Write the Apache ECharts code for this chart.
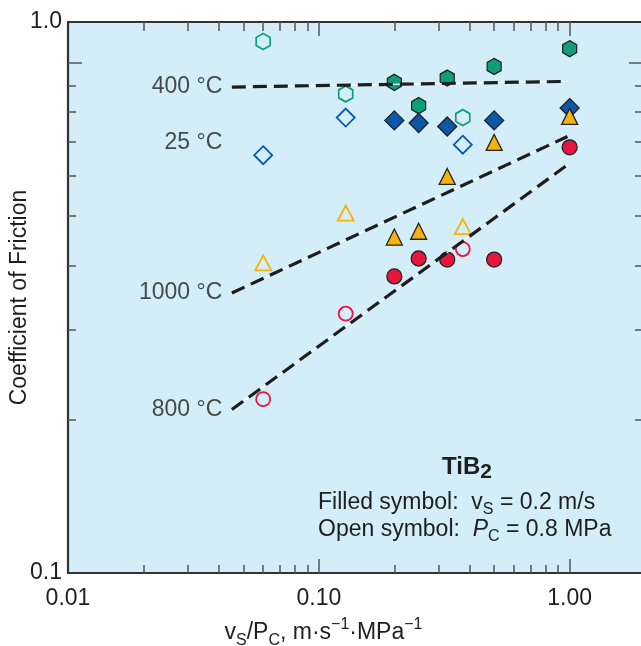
<!DOCTYPE html>
<html>
<head>
<meta charset="utf-8">
<script src="https://cdn.jsdelivr.net/npm/echarts@6/dist/echarts.min.js"></script>
<style>
html,body{margin:0;padding:0;background:#fff;}
#chart{width:641px;height:646px;}
</style>
</head>
<body>
<div id="chart"></div>
<script>
// ---------- data ----------
const xTickLabelValues = [0.01, 0.1, 1];
const xTickLabelTexts = ['0.01', '0.10', '1.00'];
const xMajorTicks = [0.1, 1];
const xMinorTicks = [0.02,0.03,0.04,0.05,0.06,0.07,0.08,0.09,0.2,0.3,0.4,0.5,0.6,0.7,0.8,0.9];
const yTickLabelValues = [0.1, 1.2];
const yTickLabelTexts = ['0.1', '1.0'];
const yMajorTicks = [1.0];
const yMinorTicks = [0.2,0.3,0.4,0.5,0.6,0.7,0.8,0.9];

// 400 °C (hexagons)
const hexFilledX = [0.2, 0.25, 0.325, 0.5, 1.0];
const hexFilledY = [0.914, 0.823, 0.932, 0.982, 1.064];
const hexOpenX = [0.06, 0.128, 0.375];
const hexOpenY = [1.099, 0.868, 0.780];
// 25 °C (diamonds)
const diaFilledX = [0.2, 0.25, 0.325, 0.5, 1.0];
const diaFilledY = [0.770, 0.761, 0.749, 0.770, 0.814];
const diaOpenX = [0.06, 0.128, 0.375];
const diaOpenY = [0.658, 0.780, 0.690];
// 1000 °C (triangles)
const triFilledX = [0.2, 0.25, 0.325, 0.5, 1.0];
const triFilledY = [0.455, 0.467, 0.598, 0.697, 0.784];
const triOpenX = [0.06, 0.128, 0.375];
const triOpenY = [0.405, 0.507, 0.477];
// 800 °C (circles)
const cirFilledX = [0.2, 0.25, 0.325, 0.5, 1.0];
const cirFilledY = [0.381, 0.413, 0.411, 0.411, 0.682];
const cirOpenX = [0.06, 0.128, 0.375];
const cirOpenY = [0.219, 0.322, 0.431];

// dashed trend lines
const fitX = [0.045, 0.98];
const fit400Y = [0.895, 0.918];
const fit1000Y = [0.3535, 0.716];
const fit800Y = [0.209, 0.630];

// temperature labels
const tempLabelText = ['400 °C', '25 °C', '1000 °C', '800 °C'];
const tempLabelX = [0.045, 0.045, 0.045, 0.045];
const tempLabelY = [0.895, 0.696, 0.3535, 0.209];

// ---------- styles ----------
const FONT = 'Liberation Sans, Arial, Helvetica, sans-serif';
const FS = 23;
const TXT = '#1e1e1e';
const AXIS = '#333333';
const TICK = '#555555';
const GREEN = '#0e9e78', BLUE = '#0b58a8', ORANGE = '#f6b30c', RED = '#e5173f';
const HEX = 'path://M0,-10L8.66,-5L8.66,5L0,10L-8.66,5L-8.66,-5Z';

function pairs(xs, ys){ return xs.map((x,i)=>[x, ys[i]]); }
function scatter(name, xs, ys, symbol, size, fill, stroke, bw){
  return {type:'scatter', name, data:pairs(xs,ys), symbol, symbolSize:size,
    itemStyle:{color:fill, borderColor:stroke, borderWidth:bw, opacity:1}, z:3,
    emphasis:{disabled:true}};
}
function dashed(ys){
  return [
    {type:'line', data:pairs(fitX,ys), symbol:'none', z:4, silent:true,
      lineStyle:{color:'#ffffff', width:1.2}},
    {type:'line', data:pairs(fitX,ys), symbol:'none', z:5, silent:true,
      lineStyle:{color:'#1d1d1d', width:3.2, type:[14,7]}}
  ];
}

const xBase = {type:'log', logBase:10, min:0.01, max:1.925, gridIndex:0,
  splitLine:{show:false}, minorTick:{show:false}};
const yBase = {type:'log', logBase:10, min:0.1, max:1.2, gridIndex:0,
  splitLine:{show:false}, minorTick:{show:false}};
const noLabel = {show:false};

const sub = {fontSize:16, fontFamily:FONT, color:TXT, verticalAlign:'bottom'};
const sup = {fontSize:16, fontFamily:FONT, color:TXT, verticalAlign:'top'};

const option = {
  animation:false,
  backgroundColor:'#ffffff',
  grid:{left:68, right:0, top:22, bottom:73, show:true, backgroundColor:'#d3edf9', borderWidth:0,
    containLabel:false, outerBoundsMode:'none'},
  xAxis:[
    Object.assign({}, xBase, {position:'bottom',
      axisLine:{show:true, lineStyle:{color:AXIS, width:2.2}},
      axisTick:{show:true, inside:true, length:14, customValues:xMajorTicks, lineStyle:{color:TICK, width:1.5}},
      axisLabel:{show:true, customValues:xTickLabelValues, margin:14,
        formatter:(v)=>{const i=xTickLabelValues.findIndex(t=>Math.abs(t-v)/t<1e-6); return i>=0?xTickLabelTexts[i]:'';},
        fontSize:FS, fontFamily:FONT, color:TXT},
      name:'{n|v}{sub|S}{n|/P}{sub|C}{n|, m·s}{sup|−1}{n|·MPa}{sup|−1}',
      nameLocation:'middle', nameGap:44, nameMoveOverlap:false,
      nameTextStyle:{padding:[0,62,0,0], rich:{
        n:{fontSize:FS, fontFamily:FONT, color:TXT, lineHeight:32, verticalAlign:'middle'},
        sub:sub, sup:sup}}
    }),
    Object.assign({}, xBase, {position:'bottom',
      axisLine:{show:false},
      axisTick:{show:true, inside:true, length:8, customValues:xMinorTicks, lineStyle:{color:TICK, width:1.5}},
      axisLabel:noLabel}),
    Object.assign({}, xBase, {position:'top',
      axisLine:{show:true, lineStyle:{color:AXIS, width:2.2}},
      axisTick:{show:true, inside:true, length:14, customValues:xMajorTicks, lineStyle:{color:TICK, width:1.5}},
      axisLabel:noLabel}),
    Object.assign({}, xBase, {position:'top',
      axisLine:{show:false},
      axisTick:{show:true, inside:true, length:9, customValues:xMinorTicks, lineStyle:{color:TICK, width:1.5}},
      axisLabel:noLabel})
  ],
  yAxis:[
    Object.assign({}, yBase, {position:'left',
      axisLine:{show:true, lineStyle:{color:AXIS, width:2.2}},
      axisTick:{show:true, inside:true, length:14, customValues:yMajorTicks, lineStyle:{color:TICK, width:1.5}},
      axisLabel:{show:true, customValues:yTickLabelValues, margin:6,
        formatter:(v)=>{const i=yTickLabelValues.findIndex(t=>Math.abs(t-v)/t<1e-6); return i>=0?yTickLabelTexts[i]:'';},
        fontSize:FS, fontFamily:FONT, color:TXT},
      name:'Coefficient of Friction', nameLocation:'middle', nameGap:37, nameMoveOverlap:false,
      nameTextStyle:{fontSize:FS, fontFamily:FONT, color:TXT}
    }),
    Object.assign({}, yBase, {position:'left',
      axisLine:{show:false},
      axisTick:{show:true, inside:true, length:8, customValues:yMinorTicks, lineStyle:{color:TICK, width:1.5}},
      axisLabel:noLabel}),
    Object.assign({}, yBase, {position:'right',
      axisLine:{show:false},
      axisTick:{show:true, inside:true, length:12, customValues:yMajorTicks, lineStyle:{color:TICK, width:1.5}},
      axisLabel:noLabel}),
    Object.assign({}, yBase, {position:'right',
      axisLine:{show:false},
      axisTick:{show:true, inside:true, length:6, customValues:yMinorTicks, lineStyle:{color:TICK, width:1.5}},
      axisLabel:noLabel})
  ],
  graphic:[
    {type:'text', x:467, y:467, z:10, style:{
      text:'{b|TiB}{bs|2}', align:'center', verticalAlign:'middle',
      rich:{b:{fontSize:24, fontWeight:'bold', fontFamily:FONT, fill:TXT, lineHeight:32, verticalAlign:'middle'},
            bs:{fontSize:21, fontWeight:'bold', fontFamily:FONT, fill:TXT, verticalAlign:'bottom'}}}},
    {type:'text', x:318, y:503, z:10, style:{
      text:'{n|Filled symbol:  v}{s|S}{n| = 0.2 m/s}', align:'left', verticalAlign:'middle',
      rich:{n:{fontSize:FS, fontFamily:FONT, fill:TXT, lineHeight:30, verticalAlign:'middle'},
            s:{fontSize:16, fontFamily:FONT, fill:TXT, verticalAlign:'bottom'}}}},
    {type:'text', x:318, y:530, z:10, style:{
      text:'{n|Open symbol:  }{i|P}{s|C}{n| = 0.8 MPa}', align:'left', verticalAlign:'middle',
      rich:{n:{fontSize:FS, fontFamily:FONT, fill:TXT, lineHeight:30, verticalAlign:'middle'},
            i:{fontSize:FS, fontStyle:'italic', fontFamily:FONT, fill:TXT, lineHeight:30, verticalAlign:'middle'},
            s:{fontSize:16, fontFamily:FONT, fill:TXT, verticalAlign:'bottom'}}}}
  ],
  series:[
    scatter('400 °C filled', hexFilledX, hexFilledY, HEX, [14,16], GREEN, '#222', 1.3),
    scatter('400 °C open', hexOpenX, hexOpenY, HEX, [14,16], 'rgba(0,0,0,0)', GREEN, 1.8),
    scatter('25 °C filled', diaFilledX, diaFilledY, 'diamond', [19,19], BLUE, '#222', 1.3),
    scatter('25 °C open', diaOpenX, diaOpenY, 'diamond', [18,18], 'rgba(0,0,0,0)', BLUE, 1.8),
    scatter('1000 °C filled', triFilledX, triFilledY, 'triangle', [16,16], ORANGE, '#222', 1.3),
    scatter('1000 °C open', triOpenX, triOpenY, 'triangle', [16,15], 'rgba(0,0,0,0)', ORANGE, 1.8),
    scatter('800 °C filled', cirFilledX, cirFilledY, 'circle', 15, RED, '#222', 1.3),
    scatter('800 °C open', cirOpenX, cirOpenY, 'circle', 14, 'rgba(0,0,0,0)', RED, 1.8),
    ...dashed(fit400Y), ...dashed(fit1000Y), ...dashed(fit800Y),
    {type:'scatter', name:'labels', silent:true, z:6,
      data: tempLabelX.map((x,i)=>({value:[x, tempLabelY[i]], name:tempLabelText[i]})),
      symbolSize:1, itemStyle:{color:'rgba(0,0,0,0)'},
      label:{show:true, position:'left', distance:9, formatter:'{b}',
        fontSize:FS, fontFamily:FONT, color:TXT}}
  ]
};
const chart = echarts.init(document.getElementById('chart'), null, {renderer:'canvas'});
chart.setOption(option);
</script>
</body>
</html>
